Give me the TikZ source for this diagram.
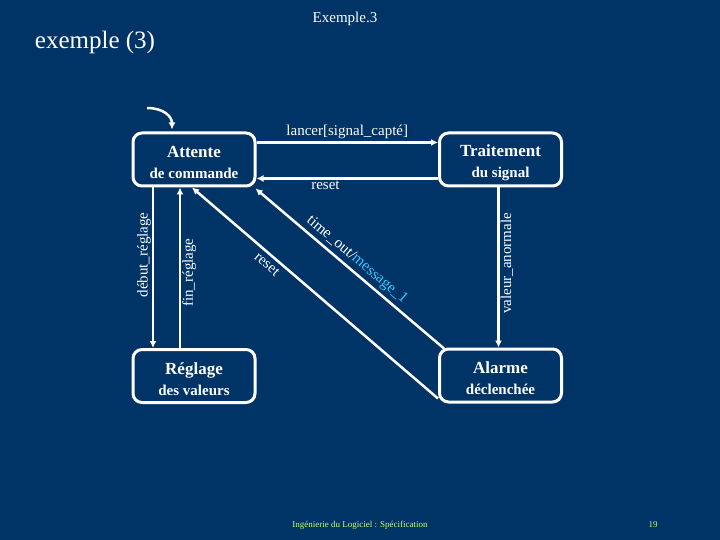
\documentclass[tikz,border=0pt]{standalone}
\usepackage{fontspec}
\setmainfont{Liberation Serif}
\usetikzlibrary{arrows.meta}
\definecolor{bg}{HTML}{003366}
\definecolor{cyanmsg}{HTML}{33CCFF}
\definecolor{foot}{HTML}{CCFF66}
\tikzset{
  state/.style={draw=white, line width=3pt, rounded corners=9pt, minimum width=122pt, minimum height=53pt, align=center, text=white, inner sep=0pt, font=\fontsize{15}{21}\selectfont},
  conn/.style={draw=white, line width=2.5pt, -{Latex[length=7pt,width=7pt]}},
  lbl/.style={text=white, font=\fontsize{15}{17}\selectfont, inner sep=1pt},
}
\newcommand{\lineA}[1]{{\fontsize{17}{21}\selectfont\bfseries\rule{0pt}{18pt}#1}}
\newcommand{\lineB}[1]{{\fontsize{15}{21}\selectfont\bfseries #1}}
\begin{document}
\begin{tikzpicture}[x=1pt,y=-1pt]
\useasboundingbox[fill=bg] (0,0) rectangle (720,540);
\node[text=white, font=\fontsize{25}{28}\selectfont] (title) at (95,42) {exemple (3)};
\node[text=white, font=\fontsize{15}{17}\selectfont] (head) at (345,19) {Exemple.3};

\node[state] (attente) at (194,159.5) {\lineA{Attente}\\\lineB{de commande}};
\node[state] (traitement) at (500.5,159.5) {\lineA{Traitement}\\\lineB{du signal}};
\node[state] (reglage) at (194,376) {\lineA{Réglage}\\\lineB{des valeurs}};
\node[state] (alarme) at (500.5,375.5) {\lineA{Alarme}\\\lineB{déclenchée}};

\coordinate (init) at (147,108);
\draw[conn] (init) .. controls (163,108) and (172,116) .. ([xshift=-22pt,yshift=2pt]attente.north);

\draw[conn] ([yshift=17pt]attente.east) -- node[lbl, above=2pt] (lancer) {lancer[signal\_capté]} ([yshift=17pt]traitement.west);
\draw[conn] ([yshift=-19pt]traitement.west) -- node[lbl, below=0pt, pos=0.62] (reset1) {reset} ([yshift=-19pt]attente.east);

\draw[conn] ([xshift=-2pt]traitement.south) -- node[lbl, rotate=90, anchor=north, xshift=4pt] (valeur) {valeur\_anormale} ([xshift=-2pt]alarme.north);

\draw[conn] ([xshift=-41pt]attente.south) -- node[lbl, rotate=90, anchor=south, pos=0.42] (debut) {début\_réglage} ([xshift=-41pt]reglage.north);
\draw[conn] ([xshift=-14pt]reglage.north) -- node[lbl, rotate=90, anchor=north, pos=0.47] (fin) {fin\_réglage} ([xshift=-14pt]attente.south);

\draw[conn] ([yshift=5pt]alarme.south west) -- node[lbl, sloped, below=3pt, pos=0.67] (reset2) {reset} ([xshift=-2pt]attente.south);
\draw[conn] ([xshift=6pt,yshift=-1pt]alarme.north west) -- node[lbl, sloped, above=2pt, pos=0.50, font=\fontsize{15.5}{17}\selectfont] (timeout) {time\_out/\textcolor{cyanmsg}{message\_1}} ([xshift=-1pt,yshift=-1pt]attente.south east);

\node[text=foot, font=\fontsize{9}{10}\selectfont] (footer) at (360,525) {Ingénierie du Logiciel : Spécification};
\node[text=foot, font=\fontsize{9}{10}\selectfont] (page) at (653,525) {19};
\end{tikzpicture}
\end{document}
